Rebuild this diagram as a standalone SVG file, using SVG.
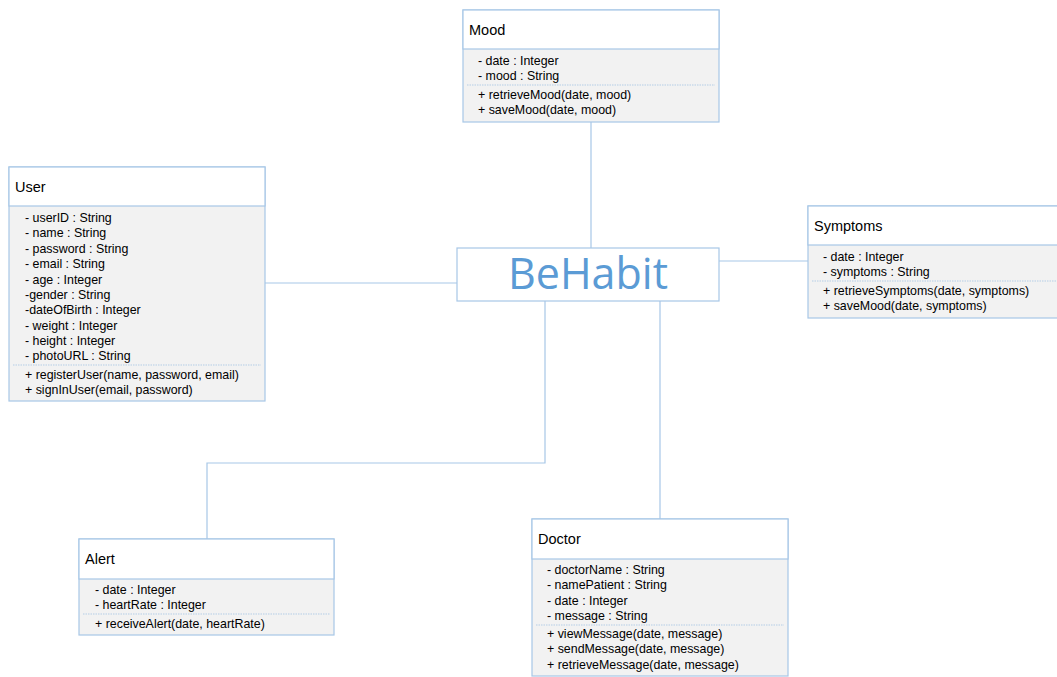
<svg xmlns="http://www.w3.org/2000/svg" width="1057" height="677" viewBox="0 0 1057 677">
  <style>
    .box { fill: #f2f2f2; stroke: #a7c7e7; stroke-width: 1.2; }
    .head { fill: #ffffff; stroke: #a7c7e7; stroke-width: 1.2; }
    .sep { stroke: #b4cde6; stroke-width: 1; stroke-dasharray: 1.5 1; }
    .title { font-family: "Liberation Sans", Arial, sans-serif; font-size: 14.5px; fill: #000000; }
    .member { font-family: "Liberation Sans", Arial, sans-serif; font-size: 12.4px; fill: #000000; }
    .conn { stroke: #a7c7e7; stroke-width: 1.2; fill: none; }
    .brand { font-family: "Open Sans", "Liberation Sans", sans-serif; font-size: 43px; fill: #5b9bd5; }
  </style>
  <rect width="1057" height="677" fill="#ffffff"/>

  <!-- connectors -->
  <g id="connectors">
    <path class="conn" d="M591 122 V248"/>
    <path class="conn" d="M265 283 H457"/>
    <path class="conn" d="M719 261 H808"/>
    <path class="conn" d="M545 301 V463 H207 V539"/>
    <path class="conn" d="M660 301 V519"/>
  </g>

  <!-- central system label -->
  <g id="behabit">
    <rect x="457" y="248" width="262" height="53" fill="#ffffff" stroke="#a7c7e7" stroke-width="1.2"/>
    <text class="brand" x="588" y="289" text-anchor="middle">BeHabit</text>
  </g>

  <!-- Mood class -->
  <g id="mood">
    <rect class="box" x="463" y="10" width="256" height="112"/>
    <rect class="head" x="463" y="10" width="256" height="39"/>
    <text class="title" x="469" y="35">Mood</text>
    <text class="member" x="478" y="65">- date : Integer</text>
    <text class="member" x="478" y="80">- mood : String</text>
    <line class="sep" x1="467" y1="85" x2="715" y2="85"/>
    <text class="member" x="478" y="99">+ retrieveMood(date, mood)</text>
    <text class="member" x="478" y="114">+ saveMood(date, mood)</text>
  </g>

  <!-- User class -->
  <g id="user">
    <rect class="box" x="9" y="167" width="256" height="234"/>
    <rect class="head" x="9" y="167" width="256" height="39"/>
    <text class="title" x="15" y="192">User</text>
    <text class="member" x="25" y="222">- userID : String</text>
    <text class="member" x="25" y="237">- name : String</text>
    <text class="member" x="25" y="253">- password : String</text>
    <text class="member" x="25" y="268">- email : String</text>
    <text class="member" x="25" y="284">- age : Integer</text>
    <text class="member" x="25" y="299">-gender : String</text>
    <text class="member" x="25" y="314">-dateOfBirth : Integer</text>
    <text class="member" x="25" y="330">- weight : Integer</text>
    <text class="member" x="25" y="345">- height : Integer</text>
    <text class="member" x="25" y="360">- photoURL : String</text>
    <line class="sep" x1="13" y1="365" x2="261" y2="365"/>
    <text class="member" x="25" y="379">+ registerUser(name, password, email)</text>
    <text class="member" x="25" y="394">+ signInUser(email, password)</text>
  </g>

  <!-- Symptoms class -->
  <g id="symptoms">
    <rect class="box" x="808" y="206" width="256" height="112"/>
    <rect class="head" x="808" y="206" width="256" height="39"/>
    <text class="title" x="814" y="231">Symptoms</text>
    <text class="member" x="823" y="261">- date : Integer</text>
    <text class="member" x="823" y="276">- symptoms : String</text>
    <line class="sep" x1="812" y1="281" x2="1057" y2="281"/>
    <text class="member" x="823" y="295">+ retrieveSymptoms(date, symptoms)</text>
    <text class="member" x="823" y="310">+ saveMood(date, symptoms)</text>
  </g>

  <!-- Alert class -->
  <g id="alert">
    <rect class="box" x="79" y="539" width="255" height="96"/>
    <rect class="head" x="79" y="539" width="255" height="40"/>
    <text class="title" x="85" y="564">Alert</text>
    <text class="member" x="95" y="594">- date : Integer</text>
    <text class="member" x="95" y="609">- heartRate : Integer</text>
    <line class="sep" x1="83" y1="614" x2="330" y2="614"/>
    <text class="member" x="95" y="628">+ receiveAlert(date, heartRate)</text>
  </g>

  <!-- Doctor class -->
  <g id="doctor">
    <rect class="box" x="532" y="519" width="256" height="157"/>
    <rect class="head" x="532" y="519" width="256" height="40"/>
    <text class="title" x="538" y="544">Doctor</text>
    <text class="member" x="547" y="574">- doctorName : String</text>
    <text class="member" x="547" y="589">- namePatient : String</text>
    <text class="member" x="547" y="605">- date : Integer</text>
    <text class="member" x="547" y="620">- message : String</text>
    <line class="sep" x1="536" y1="625" x2="784" y2="625"/>
    <text class="member" x="547" y="638">+ viewMessage(date, message)</text>
    <text class="member" x="547" y="653">+ sendMessage(date, message)</text>
    <text class="member" x="547" y="669">+ retrieveMessage(date, message)</text>
  </g>
</svg>
